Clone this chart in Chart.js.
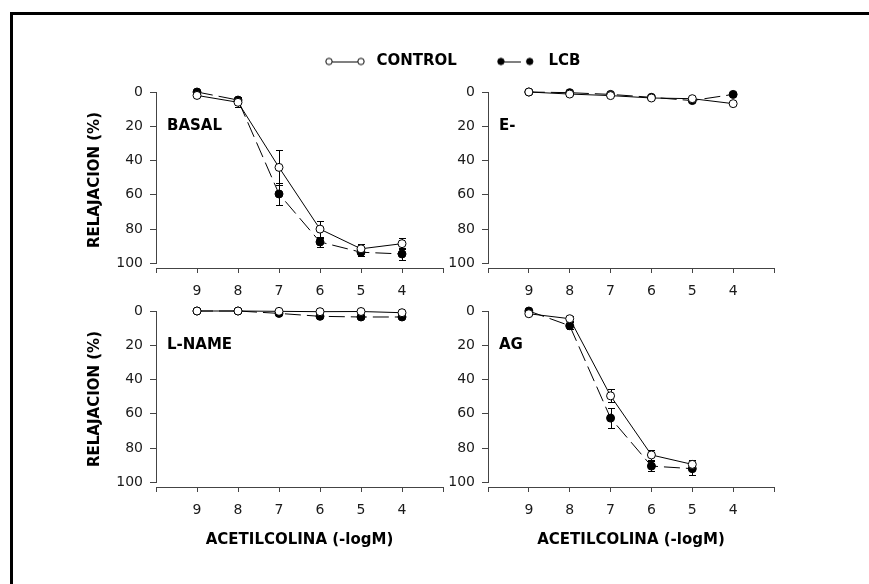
<!DOCTYPE html>
<html>
<head>
<meta charset="utf-8">
<script src="https://cdn.jsdelivr.net/npm/chart.js@4.4.1/dist/chart.umd.min.js"></script>
<style>
  html, body { margin: 0; padding: 0; background: #fff; overflow: hidden; }
  body { width: 869px; height: 584px; position: relative; }
  .frame { position: absolute; left: 10px; top: 12px; width: 900px; height: 620px;
           border-left: 3px solid #000; border-top: 3px solid #000; }
  canvas { position: absolute; }
  #legend { left: 285px; top: 14px; }
  #basal { left: 80px; top: 76px; }
  #eneg { left: 410px; top: 76px; }
  #lname { left: 80px; top: 295px; }
  #ag { left: 410px; top: 295px; }
</style>
</head>
<body>
<div class="frame"></div>
<canvas id="legend" width="400" height="200"></canvas>
<canvas id="basal" width="380" height="224"></canvas>
<canvas id="eneg" width="380" height="224"></canvas>
<canvas id="lname" width="380" height="265"></canvas>
<canvas id="ag" width="380" height="265"></canvas>
<script>
// acetilcolina concentration (-logM)
const logM = [9, 8, 7, 6, 5, 4];
const xTickValues = [10, 9, 8, 7, 6, 5, 4, 3];
const yTickValues = [0, 20, 40, 60, 80, 100];
const seriesNames = ["CONTROL", "LCB"];

// relaxation (%) and SEM per panel
const basalControl = [2, 6, 44, 80, 91.5, 88.5];
const basalControlErr = [1, 3, 10, 5, 2.7, 3.3];
const basalLcb = [0, 4.7, 59.5, 87.5, 93.5, 94.5];
const basalLcbErr = [0.5, 2, 6.5, 3, 2, 3.3];

const eControl = [0, 1.2, 2.1, 3.5, 3.9, 6.8];
const eControlErr = [0.5, 0.5, 0.5, 0.5, 0.5, 0.5];
const eLcb = [0, 0.4, 1.4, 3.1, 5, 1.4];
const eLcbErr = [0.5, 0.5, 0.5, 0.5, 0.5, 0.5];

const lnameControl = [0, 0, 0.2, 0.4, 0.3, 1];
const lnameControlErr = [0.3, 0.3, 0.3, 0.3, 0.3, 0.3];
const lnameLcb = [0, 0, 1.4, 3.1, 3.5, 3.5];
const lnameLcbErr = [0.3, 0.3, 0.5, 0.5, 0.5, 0.5];

const agControl = [1.6, 4.5, 49.5, 84, 89.5, null];
const agControlErr = [0.5, 1.5, 3.7, 2.8, 2.5, null];
const agLcb = [0, 8.6, 62.5, 90.5, 92, null];
const agLcbErr = [0.5, 2, 6, 2.7, 3.5, null];

const axisColor = "#444";
const tickColor = "#1a1a1a";

Chart.defaults.font.family = "'DejaVu Sans', sans-serif";
Chart.defaults.color = tickColor;

// error bars under the lines and markers
const errorBars = {
  id: "errorBars",
  beforeDatasetsDraw(chart) {
    const ctx = chart.ctx;
    const x = chart.scales.x;
    const y = chart.scales.y;
    ctx.save();
    ctx.strokeStyle = "#000";
    ctx.lineWidth = 1;
    chart.data.datasets.forEach((ds) => {
      if (!ds.errors) return;
      ds.data.forEach((pt, i) => {
        const e = ds.errors[i];
        if (pt.y == null || e == null) return;
        const px = Math.round(x.getPixelForValue(pt.x)) + 0.5;
        const top = Math.round(y.getPixelForValue(pt.y - e)) + 0.5;
        const bot = Math.round(y.getPixelForValue(pt.y + e)) + 0.5;
        ctx.beginPath();
        ctx.moveTo(px, top);
        ctx.lineTo(px, bot);
        ctx.moveTo(px - 3.5, top);
        ctx.lineTo(px + 3.5, top);
        ctx.moveTo(px - 3.5, bot);
        ctx.lineTo(px + 3.5, bot);
        ctx.stroke();
      });
    });
    ctx.restore();
  },
};

// y axis line from 0 to 100 only, and the panel name
const panelDecor = {
  id: "panelDecor",
  afterDraw(chart, args, opts) {
    const ctx = chart.ctx;
    const y = chart.scales.y;
    const left = chart.chartArea.left;
    ctx.save();
    ctx.strokeStyle = axisColor;
    ctx.lineWidth = 1;
    ctx.beginPath();
    ctx.moveTo(left + 0.5, Math.round(y.getPixelForValue(0)));
    ctx.lineTo(left + 0.5, Math.round(y.getPixelForValue(100)) + 1);
    ctx.stroke();
    ctx.fillStyle = "#000";
    ctx.font = "bold 15px 'DejaVu Sans', sans-serif";
    ctx.textBaseline = "middle";
    ctx.fillText(opts.text, left + 11, y.getPixelForValue(20));
    ctx.restore();
  },
};

function points(values) {
  return logM.map((v, i) => ({ x: v, y: values[i] }));
}

function makePanel(id, p) {
  new Chart(document.getElementById(id), {
    type: "line",
    data: {
      datasets: [
        {
          label: seriesNames[0],
          data: points(p.control),
          errors: p.controlErr,
          borderColor: "#000",
          borderWidth: 1,
          pointRadius: 4,
          pointBackgroundColor: "#fff",
          pointBorderColor: "#000",
          pointBorderWidth: 1,
          tension: 0,
          clip: false,
        },
        {
          label: seriesNames[1],
          data: points(p.lcb),
          errors: p.lcbErr,
          borderColor: "#000",
          borderWidth: 1,
          borderDash: [16, 6],
          pointRadius: 4,
          pointBackgroundColor: "#000",
          pointBorderColor: "#000",
          pointBorderWidth: 1,
          tension: 0,
          clip: false,
        },
      ],
    },
    options: {
      responsive: false,
      animation: false,
      events: [],
      layout: { padding: { top: 16, right: p.padRight, left: 0, bottom: 0 } },
      plugins: {
        legend: { display: false },
        tooltip: { enabled: false },
        panelDecor: { text: p.label },
      },
      scales: {
        x: {
          type: "linear",
          min: 3,
          max: 10,
          reverse: true,
          afterBuildTicks: (s) => { s.ticks = xTickValues.map((v) => ({ value: v })); },
          afterFit: (s) => { s.height = p.xHeight; },
          border: { display: true, color: axisColor, width: 1 },
          grid: { drawOnChartArea: false, color: axisColor, tickLength: 5 },
          ticks: {
            autoSkip: false,
            maxRotation: 0,
            padding: 10,
            color: tickColor,
            font: { size: 14 },
            callback: (v) => (logM.includes(v) ? String(v) : ""),
          },
          title: {
            display: p.xTitle,
            text: "ACETILCOLINA (-logM)",
            color: "#000",
            font: { size: 15, weight: "bold" },
            padding: { top: 0, bottom: 11 },
          },
        },
        y: {
          type: "linear",
          min: 0,
          max: 102.7,
          reverse: true,
          afterBuildTicks: (s) => { s.ticks = yTickValues.map((v) => ({ value: v })); },
          afterFit: (s) => { s.width = p.yWidth; },
          border: { display: false },
          grid: { drawOnChartArea: false, color: axisColor, tickLength: 6 },
          ticks: { padding: 7, color: tickColor, font: { size: 14 } },
          title: {
            display: p.yTitle,
            text: "RELAJACION (%)",
            color: "#000",
            font: { size: 15, weight: "bold" },
            padding: { top: 6, bottom: 0 },
          },
        },
      },
    },
    plugins: [errorBars, panelDecor],
  });
}

makePanel("basal", { control: basalControl, controlErr: basalControlErr, lcb: basalLcb, lcbErr: basalLcbErr,
  label: "BASAL", yTitle: true, xTitle: false, yWidth: 76, padRight: 17, xHeight: 32 });
makePanel("eneg", { control: eControl, controlErr: eControlErr, lcb: eLcb, lcbErr: eLcbErr,
  label: "E-", yTitle: false, xTitle: false, yWidth: 78, padRight: 16, xHeight: 32 });
makePanel("lname", { control: lnameControl, controlErr: lnameControlErr, lcb: lnameLcb, lcbErr: lnameLcbErr,
  label: "L-NAME", yTitle: true, xTitle: true, yWidth: 76, padRight: 17, xHeight: 73 });
makePanel("ag", { control: agControl, controlErr: agControlErr, lcb: agLcb, lcbErr: agLcbErr,
  label: "AG", yTitle: false, xTitle: true, yWidth: 78, padRight: 16, xHeight: 73 });

// legend symbols: two markers joined by a line
function legendSymbol(fill, secondX, lineEnd) {
  const c = document.createElement("canvas");
  c.width = 44;
  c.height = 12;
  const g = c.getContext("2d");
  g.strokeStyle = "#000";
  g.lineWidth = 1;
  g.beginPath();
  g.moveTo(7, 6.5);
  g.lineTo(lineEnd, 6.5);
  g.stroke();
  [4, secondX].forEach((cx) => {
    g.beginPath();
    g.arc(cx, 6, 3.2, 0, Math.PI * 2);
    g.fillStyle = fill;
    g.fill();
    g.stroke();
  });
  return c;
}

const legendSymbols = [legendSymbol("#fff", 36, 33), legendSymbol("#000", 32.8, 24)];

new Chart(document.getElementById("legend"), {
  type: "line",
  data: { datasets: seriesNames.map((n) => ({ label: n, data: [] })) },
  options: {
    responsive: false,
    animation: false,
    events: [],
    scales: { x: { display: false }, y: { display: false } },
    plugins: {
      tooltip: { enabled: false },
      legend: {
        display: true,
        position: "top",
        align: "start",
        labels: {
          usePointStyle: true,
          pointStyleWidth: 44,
          padding: 40,
          color: "#000",
          font: { size: 15, weight: "bold" },
          generateLabels: () =>
            seriesNames.map((n, i) => ({
              text: n,
              pointStyle: legendSymbols[i],
              fillStyle: "#000",
              strokeStyle: "#000",
              lineWidth: 1,
              hidden: false,
              datasetIndex: i,
            })),
        },
      },
    },
  },
});
</script>
</body>
</html>
